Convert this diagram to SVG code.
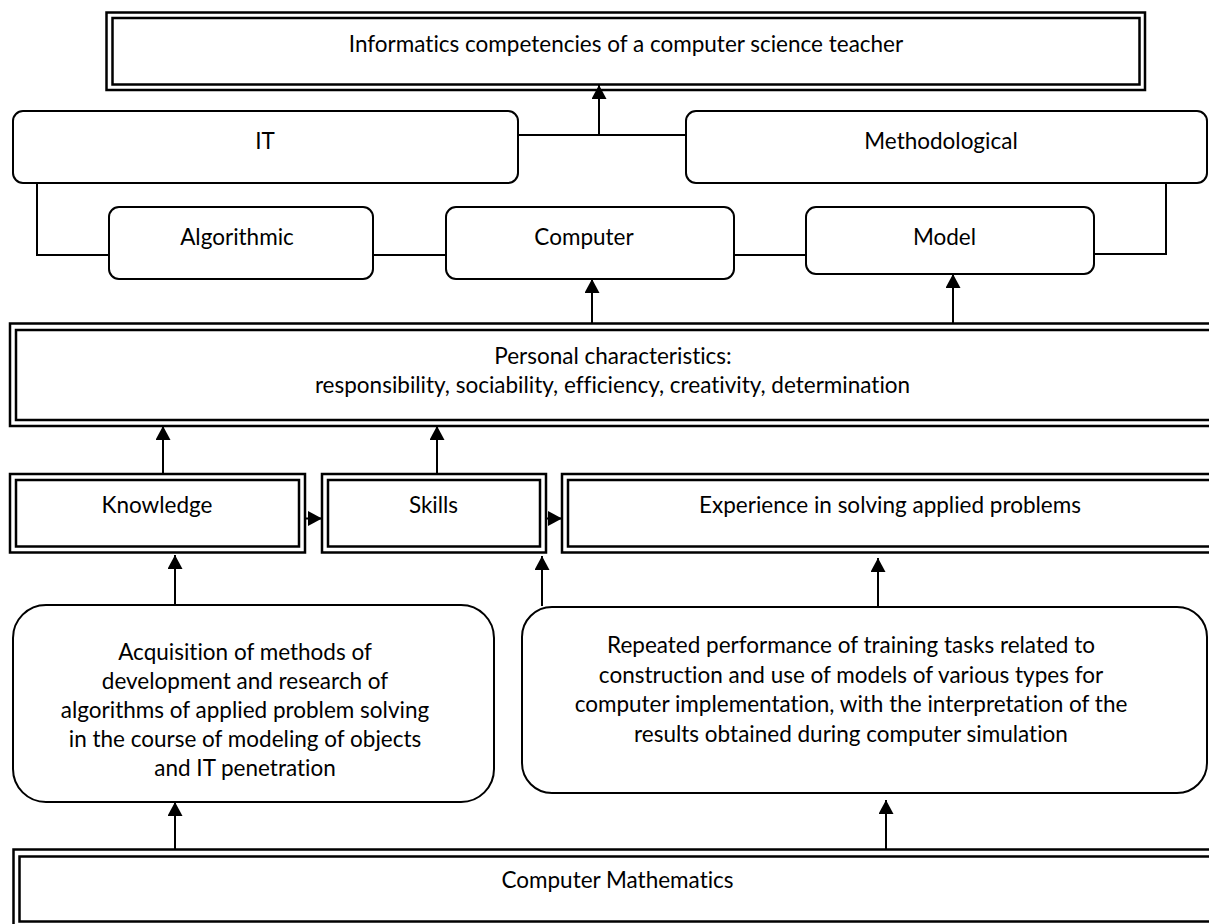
<svg xmlns="http://www.w3.org/2000/svg" width="1209" height="924" viewBox="0 0 1209 924">
<style>
  .bg{fill:#ffffff}
  .dbl{fill:none;stroke:#000;stroke-width:2.5}
  .rr{fill:#fff;stroke:#000;stroke-width:2}
  .ln{fill:none;stroke:#000;stroke-width:2}
  .ar{fill:none;stroke:#000;stroke-width:2;marker-end:url(#ah)}
  text{font-family:Lato,"Open Sans","Liberation Sans",sans-serif;font-size:22.5px;fill:#000;text-anchor:middle;font-variant-ligatures:none;font-feature-settings:"liga" 0}
</style>
<defs>
  <marker id="ah" markerUnits="userSpaceOnUse" markerWidth="15" markerHeight="15" refX="14" refY="7.5" orient="auto">
    <path d="M0,0 L14,7.5 L0,15 Z" fill="#000"/>
  </marker>
</defs>
<rect class="bg" x="0" y="0" width="1209" height="924"/>

<g id="connectors">
  <line class="ln" x1="518" y1="135" x2="686" y2="135"/>
  <line class="ar" x1="599" y1="135" x2="599" y2="85"/>
  <polyline class="ln" points="37,183 37,255 109,255"/>
  <line class="ln" x1="373" y1="255" x2="446" y2="255"/>
  <line class="ln" x1="734" y1="255" x2="806" y2="255"/>
  <polyline class="ln" points="1094,254 1166,254 1166,183"/>
  <line class="ar" x1="592" y1="323" x2="592" y2="279"/>
  <line class="ar" x1="953" y1="323" x2="953" y2="274"/>
  <line class="ar" x1="163" y1="474" x2="163" y2="426"/>
  <line class="ar" x1="437" y1="474" x2="437" y2="426"/>
  <line class="ar" x1="305" y1="518.5" x2="322" y2="518.5"/>
  <line class="ar" x1="546" y1="518.5" x2="562" y2="518.5"/>
  <line class="ar" x1="175" y1="605" x2="175" y2="555"/>
  <line class="ar" x1="542" y1="606" x2="542" y2="556"/>
  <line class="ar" x1="878" y1="606" x2="878" y2="558"/>
  <line class="ar" x1="175" y1="849" x2="175" y2="802"/>
  <line class="ar" x1="886" y1="849" x2="886" y2="800"/>
</g>

<g id="n-title">
  <rect class="dbl" x="106.5" y="12.5" width="1038.5" height="77.5"/>
  <rect class="dbl" x="112.5" y="18" width="1027" height="66.5"/>
  <text x="626" y="52">Informatics competencies of a computer science teacher</text>
</g>

<g id="n-it">
  <rect class="rr" x="13" y="111" width="505" height="72" rx="10"/>
  <text x="265" y="149">IT</text>
</g>

<g id="n-methodological">
  <rect class="rr" x="686" y="111" width="521" height="72" rx="10"/>
  <text x="941" y="149">Methodological</text>
</g>

<g id="n-algorithmic">
  <rect class="rr" x="109" y="207" width="264" height="72" rx="10"/>
  <text x="237" y="245">Algorithmic</text>
</g>

<g id="n-computer">
  <rect class="rr" x="446" y="207" width="288" height="72" rx="10"/>
  <text x="584" y="245">Computer</text>
</g>

<g id="n-model">
  <rect class="rr" x="806" y="207" width="288" height="67" rx="10"/>
  <text x="944.5" y="245">Model</text>
</g>

<g id="n-personal">
  <rect class="dbl" x="10" y="323.5" width="1210" height="102.5"/>
  <rect class="dbl" x="16" y="330" width="1204" height="90"/>
  <text x="613" y="364">Personal characteristics:</text>
  <text x="612.5" y="393">responsibility, sociability, efficiency, creativity, determination</text>
</g>

<g id="n-knowledge">
  <rect class="dbl" x="10" y="474" width="295" height="78.5"/>
  <rect class="dbl" x="16" y="480" width="283" height="66.5"/>
  <text x="157" y="513">Knowledge</text>
</g>

<g id="n-skills">
  <rect class="dbl" x="322" y="474" width="224" height="78.5"/>
  <rect class="dbl" x="328" y="480" width="212" height="66.5"/>
  <text x="433.5" y="513">Skills</text>
</g>

<g id="n-experience">
  <rect class="dbl" x="562" y="474" width="660" height="78.5"/>
  <rect class="dbl" x="568" y="480" width="650" height="66.5"/>
  <text x="890" y="513">Experience in solving applied problems</text>
</g>

<g id="n-acquisition">
  <rect class="rr" x="13" y="605" width="481" height="197" rx="33"/>
  <text x="245" y="659.5">Acquisition of methods of</text>
  <text x="245" y="688.5">development and research of</text>
  <text x="245" y="717.5">algorithms of applied problem solving</text>
  <text x="245" y="746.5">in the course of modeling of objects</text>
  <text x="245" y="775.5">and IT penetration</text>
</g>

<g id="n-repeated">
  <rect class="rr" x="522" y="607" width="685" height="186" rx="30"/>
  <text x="851" y="653">Repeated performance of training tasks related to</text>
  <text x="851" y="682.5">construction and use of models of various types for</text>
  <text x="851" y="712">computer implementation, with the interpretation of the</text>
  <text x="851" y="741.5">results obtained during computer simulation</text>
</g>

<g id="n-cm">
  <rect class="dbl" x="13.5" y="849.5" width="1210" height="80"/>
  <rect class="dbl" x="19.5" y="856.5" width="1200" height="65"/>
  <text x="617.5" y="888">Computer Mathematics</text>
</g>
</svg>
